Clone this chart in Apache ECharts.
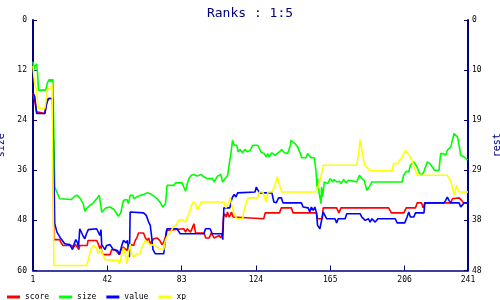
<!DOCTYPE html>
<html>
<head>
<meta charset="utf-8">
<script src="https://cdn.jsdelivr.net/npm/echarts@6/dist/echarts.min.js"></script>
<style>html,body{margin:0;padding:0;background:#fff;}#c{width:500px;height:300px;}</style>
</head>
<body>
<div id="c"></div>
<script>
const xTicks = [1, 42, 83, 124, 165, 206, 241];
const leftTicks = [0, 12, 24, 36, 48, 60];
const rightTicks = [0, 9.6, 19.2, 28.8, 38.4, 48];
const seriesNames = ['score', 'size', 'value', 'xp'];

const scoreData = [[1,17.5],[2,19.5],[3,22],[4,22.4],[7.5,22.4],[8.5,20],[9.5,18.8],[11.8,18.8],[12.5,52.6],[15.7,52.6],[16.6,53.4],[17.5,54],[22.2,54],[23.5,54.4],[24.6,53.8],[25.4,54.4],[26.3,55],[26.8,54],[30.9,54],[31.4,52.8],[36.1,52.8],[37,53.6],[37.9,54.8],[38.5,54],[38.9,55.6],[39.8,56.2],[43.5,56.2],[44.4,55],[46.2,55],[47.5,55.6],[48.7,56.2],[49.4,55.2],[50.9,54.4],[52.8,55.2],[53.7,54],[55,53.8],[56.5,54],[57.4,52.8],[58.3,52.2],[59.2,51],[62,51],[63,52.2],[63.9,52.8],[64.8,52.2],[65.7,53.6],[66.6,53.2],[67.6,52.4],[68.5,52.6],[69.4,52.2],[70.9,52.8],[72.2,53.8],[73.1,53.2],[74.1,52],[74.6,50.4],[75,50],[84.2,50],[85.2,50.8],[86.1,50],[87.9,50.8],[88.9,49.8],[89.8,48.8],[90.7,51],[95.4,51],[96.3,52.2],[97.2,52.6],[98.2,52.2],[99.4,51],[100.9,52.2],[101.8,52.6],[103.7,51.6],[104.6,52.2],[105.5,51.2],[106.1,47.2],[106.8,46.4],[107.6,47.2],[108.3,46],[109.2,47.2],[110,46.6],[110.5,46],[111.4,47.2],[112,47.6],[128.3,47.6],[129.1,46.2],[137,46.2],[138,45],[143.5,45],[144.5,46.2],[157.4,46.2],[158,47.6],[160.6,47.6],[161.1,45],[168.5,45],[169.8,46.2],[170.9,45],[197.2,45],[198.7,46.2],[205.6,46.2],[206.9,45],[212,45],[213,43.8],[215.4,43.8],[216.2,45],[217.2,43.8],[231.5,43.8],[232.4,42.8],[236.1,42.6],[237.5,43.2],[238.5,43.8],[241,43.8]];

const sizeData = [[1,10],[1.5,12],[2,11],[3,10.5],[3.5,12.5],[4,16.8],[8,16.8],[9,15],[10,14.2],[10.5,14.8],[11,14.2],[11.5,14.8],[12,14.2],[12.5,27],[13,40],[15.7,42.8],[22.2,43],[24,42.2],[25.4,42],[26.8,42.6],[28.7,44],[29.6,45.8],[30.9,45],[32.4,44.4],[34.3,43.8],[36.1,42.8],[37.6,42],[38.5,42],[38.9,46],[41.3,45],[43.5,44.8],[45.7,45.4],[47.2,46.4],[48.1,47],[49.4,46.2],[50.9,43.2],[52.8,43],[53.7,44],[54.6,42],[56.1,42],[56.8,42.8],[58.3,42.4],[60.2,42],[62,41.8],[63.9,41.4],[64.8,41.2],[65.7,41.6],[67.6,42.2],[69.5,42.8],[71.3,43.8],[72.6,44.8],[74.1,44],[75,39.6],[78.7,39.6],[79.6,39],[83.3,39],[84.2,40],[85.2,41],[86.1,39.2],[87,38],[88.3,37.2],[89.8,37],[91.6,37.4],[93.5,37],[95.4,37.6],[97.2,38],[100,38],[100.9,38.8],[102.8,37.4],[104.6,37],[105.6,38.8],[106.5,38.4],[108.4,37.2],[109.3,34.4],[110.2,32],[111.1,28.8],[112,30],[113.4,30],[114.2,31.6],[115.3,31],[116.6,31.8],[117.9,31],[119.4,31.6],[120.9,31.2],[122.2,30],[125,30],[126.8,31.6],[128.6,32],[129.6,32.8],[130.5,32],[131.4,32.8],[132.7,31.8],[133.8,31.4],[134.5,32.4],[135.6,32],[136.9,31.6],[138.2,31],[139.7,31.8],[141.5,32],[143,30],[143.3,28.8],[144.3,29.2],[145.5,29.6],[147,30.4],[148.5,32],[149.2,33],[151.6,33],[152.5,32],[154.4,33],[156.2,33],[157.1,36],[157.7,40],[158,38],[158.9,41.6],[159.9,44],[160.2,40],[160.8,42.4],[161.7,38.8],[162.6,38.4],[163.5,39.2],[165,38],[166.3,38.8],[167.2,38.2],[168.7,38.8],[170,38.6],[170.9,39.2],[172.4,38.2],[173.6,39],[175,38.4],[177.9,38.6],[179.6,38.8],[181.1,37.2],[182.4,38],[183.7,38.4],[185.2,40.8],[187,39.6],[187.9,38.8],[198.1,38.8],[204.6,38.8],[205.5,37.2],[207,36.2],[208.3,36.4],[209.2,34.8],[211.1,34],[212.9,35.2],[213.9,36.4],[215.2,37.2],[216.6,36.4],[218.5,34],[220,34.4],[221.3,35.2],[222.6,36],[225,36],[225.9,32],[227.4,32],[228.7,32.4],[229.6,31.2],[231.5,30.4],[233.3,27.2],[234.2,27],[235.2,28],[236.1,30],[237,32.4],[238.9,32.8],[240.7,33.6],[241,33.6]];

const valueData = [[1,17.4],[2,18.4],[3,22.4],[7.5,22.4],[8.5,20],[9.5,18.8],[11.8,18.8],[12.5,36],[13,48.8],[13.5,49.2],[14.2,50.8],[15.3,51.2],[16.1,52.2],[17.2,52.8],[18.5,53.6],[21.3,53.8],[22.8,55],[23.6,53.8],[24.6,52.6],[25.4,53.2],[26.1,54.4],[26.8,50],[27.8,50.2],[28.7,51.8],[29.6,52.4],[30.5,51.2],[31.5,50.2],[32.4,50],[36.1,50],[37,50.4],[37.9,51.6],[38.5,50.2],[38.9,53.8],[39.8,54],[40.7,55],[41.6,54],[43.5,53.8],[44.4,54.4],[45.3,55],[47.6,55.2],[48.7,56.2],[50,54],[50.9,52.8],[52.4,53.4],[53.1,52.8],[53.7,54.8],[54.2,56.8],[54.6,46],[62,46.2],[63.5,46.8],[64.8,48.4],[65.7,49.2],[66.6,52.4],[67.2,55],[68.5,56],[73.1,56],[74.1,52.4],[75,50],[80.5,50],[82.2,51.2],[95.3,51.2],[96.2,50],[98.7,50],[99.9,51.2],[105.3,51.2],[105.7,52.6],[106.3,45],[109.6,45],[110.5,43.2],[111.1,42.4],[112,41.8],[113,42.4],[113.9,41.4],[115,41.3],[123.5,41.2],[124.2,40],[125,40],[125.9,41.4],[132.8,41.4],[133.9,43.6],[135.2,43.8],[136.5,42.6],[138,42.6],[138.9,43.8],[149.1,43.8],[150,44.8],[152.8,45],[153.7,46],[154.6,44.8],[155.6,45.6],[156.5,44.8],[157.4,46.2],[158,49.2],[159.3,50],[160.2,50],[161.1,46],[162,46.4],[163,47.6],[167.6,47.6],[168.5,48.6],[169.4,47.6],[173.2,47.6],[174.1,46.4],[181.5,46.4],[182.4,47.2],[184.3,48],[185.2,48.4],[186.1,47.6],[187,48.4],[188,47.6],[189.8,48.4],[191.3,47.6],[200.9,47.6],[201.9,48.6],[206.1,48.6],[207.4,47.2],[208.3,46],[209.2,47.2],[211.1,47.2],[212,46.2],[216.7,46.2],[217.2,43.8],[227.8,43.8],[228.7,43.2],[229.6,42.4],[230.5,43.2],[231.5,43.8],[236.1,43.8],[237,44.8],[237.9,44.4],[238.9,43.8],[241,43.8]];

const xpData = [[1,11],[1.5,13.5],[2,15.5],[2.5,16],[3,17.5],[4,21.2],[7.5,21.2],[8.5,18.5],[9,16.4],[11,16.4],[11.5,15.2],[12,15.2],[12.5,58.8],[30.5,58.8],[31.5,57.5],[32.7,55.2],[34.2,54],[35.2,53.6],[36.1,54.6],[37,56],[37.9,56.4],[38.3,54.8],[39.4,54.6],[40.7,57.4],[41.6,57.6],[48.1,57.6],[48.7,58.4],[49.4,58.8],[50,56],[50.9,54.6],[51.8,54.6],[52.4,56.8],[52.8,58.4],[53.7,55.6],[54.6,53.6],[55.5,56],[56.5,56.8],[58.3,56],[60.2,56],[61.1,54.4],[63,52.8],[64.2,53.2],[65.7,54],[67.6,53.8],[69.4,54.4],[71.3,54.8],[73.1,55],[74,52.8],[75.3,51.6],[76.8,51],[78.3,49.6],[79.6,49.4],[81.4,48],[83.3,47.8],[84.2,47.6],[85.1,48.4],[86.1,47.2],[87.5,46],[88.3,44.6],[89.4,43.6],[90.7,44],[91.6,45.4],[93.1,44.4],[93.8,43.6],[106.4,43.6],[107.4,45],[108.7,44],[109.8,42.6],[110.5,44],[112,46.4],[113.5,47.6],[116.6,47.6],[117.5,45.5],[119,43.2],[119.7,42.6],[125,42.6],[125.9,41.2],[127.8,41.2],[128.7,42.4],[129.6,43.6],[130.6,41.2],[132.8,41.2],[134.3,40],[135.7,37.6],[136.5,37.6],[137.6,40.4],[138.3,41.2],[156.5,41.2],[157.9,40.4],[159.3,38.4],[160.2,36.8],[161.1,34.8],[179.6,34.8],[180.5,32.4],[181.5,28.6],[182.4,28.6],[183,32.4],[183.9,34.8],[185.2,35.2],[186.5,36],[187,36.2],[199,36.2],[200,34.4],[201,34],[202.1,34.4],[203.3,33.6],[204.6,33],[205.5,32],[206.5,31.2],[207.4,31.6],[208.9,32.6],[210.1,33.8],[211.4,35.2],[212.9,37.2],[229.6,37.2],[231.5,38.6],[232.4,40],[233.3,42],[233.9,41.6],[234.8,39.6],[235.2,40.4],[236.1,41.2],[241,41.2]];

const colors = ['#ff0000', '#00ff00', '#0000ff', '#ffff00'];
const navy = '#000080';
const mono = 'DejaVu Sans Mono';

const chart = echarts.init(document.getElementById('c'), null, {renderer: 'canvas'});
const allData = [scoreData, sizeData, valueData, xpData];

chart.setOption({
  animation: false,
  backgroundColor: '#ffffff',
  title: {
    text: 'Ranks : 1:5',
    left: 'center',
    top: 2,
    textStyle: {color: navy, fontSize: 13, fontWeight: 'normal', fontFamily: mono}
  },
  legend: {
    data: seriesNames,
    left: 2,
    top: 288,
    icon: 'rect',
    itemWidth: 13,
    itemHeight: 3,
    itemGap: 10,
    textStyle: {color: '#000', fontSize: 8, fontFamily: mono}
  },
  grid: {left: 33, right: 32, top: 20, bottom: 29.5, containLabel: false, outerBoundsMode: 'none'},
  xAxis: {
    type: 'value',
    min: 1,
    max: 241,
    axisLine: {show: true, onZero: false, lineStyle: {color: navy, width: 1.5}},
    axisTick: {show: true, inside: true, length: 5, customValues: xTicks, lineStyle: {color: navy, width: 1}},
    axisLabel: {customValues: xTicks, color: '#000', fontSize: 8, fontFamily: mono, margin: 5},
    splitLine: {show: false}
  },
  yAxis: [
    {
      type: 'value',
      name: 'size',
      nameLocation: 'middle',
      nameGap: 19,
      nameRotate: 90,
      nameTextStyle: {color: navy, fontSize: 10, fontFamily: mono},
      min: 0,
      max: 60,
      interval: 12,
      inverse: true,
      position: 'left',
      axisLine: {show: true, onZero: false, lineStyle: {color: navy, width: 2}},
      axisTick: {show: true, inside: true, length: 4, lineStyle: {color: navy, width: 1}},
      axisLabel: {color: '#000', fontSize: 8, fontFamily: mono, margin: 6},
      splitLine: {show: false}
    },
    {
      type: 'value',
      name: 'rest',
      nameLocation: 'middle',
      nameGap: 20,
      nameRotate: 90,
      nameTextStyle: {color: navy, fontSize: 10, fontFamily: mono},
      min: 0,
      max: 48,
      inverse: true,
      position: 'right',
      axisLine: {show: true, onZero: false, lineStyle: {color: navy, width: 2}},
      axisTick: {show: true, inside: true, length: 4, customValues: rightTicks, lineStyle: {color: navy, width: 1}},
      axisLabel: {customValues: rightTicks, formatter: v => String(Math.round(v)), color: '#000', fontSize: 8, fontFamily: mono, margin: 4},
      splitLine: {show: false}
    }
  ],
  series: seriesNames.map((n, i) => ({
    name: n,
    type: 'line',
    yAxisIndex: 0,
    data: allData[i],
    showSymbol: false,
    symbol: 'none',
    color: colors[i],
    lineStyle: {color: colors[i], width: 1.6},
    itemStyle: {color: colors[i]},
    emphasis: {disabled: true}
  }))
});
</script>
</body>
</html>
